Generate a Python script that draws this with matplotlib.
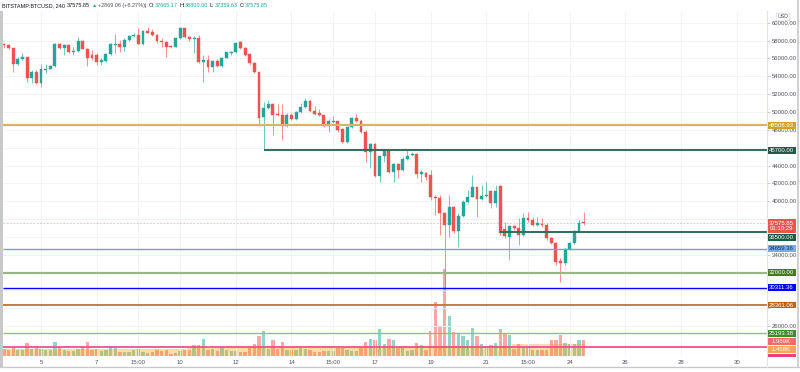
import numpy as np
import matplotlib.pyplot as plt
from matplotlib.patches import Rectangle
from matplotlib.lines import Line2D
from matplotlib.transforms import IdentityTransform

plt.rcParams['font.family'] = ['Liberation Sans', 'DejaVu Sans']

W, H = 800, 372

# BITSTAMP:BTCUSD 4h candles, first bar opens May 3 16:00
first_bar_day = 3 + 2 / 3

opens = [57610, 57500, 57125, 55370, 55893, 56154, 53764, 54511, 53204, 54735,
         54847, 55146, 57611, 57163, 57462, 56752, 56864, 57984, 57088, 56416,
         56378, 55631, 55743, 56453, 57536, 57611, 57312, 58059, 58470, 58619,
         57611, 59030, 58918, 58619, 57947, 57872, 57424, 57312, 58246, 59366,
         58358, 58134, 58246, 55631, 55818, 55071, 55743, 55183, 56080, 56640,
         56677, 57835, 57125, 56490, 55520, 54436, 49397, 50405, 50854, 49770,
         49658, 48463, 49658, 49210, 50032, 50517, 51264, 50107, 49845, 49621,
         48463, 48911, 48949, 48090, 46670, 48276, 49285, 49023, 47716, 45475,
         46371, 42823, 45064, 45737, 43234, 44130, 43496, 44691, 45139, 45288,
         43010, 43122, 42936, 40508, 40321, 38641, 37333, 39313, 36699, 38342,
         39948, 40508, 41554, 40209, 40583, 41180, 39761, 41703, 36848, 36026,
         37221, 36960, 36213, 38155, 37894, 37333, 37445, 37333, 35839, 35354,
         33337, 33038, 34607, 35279, 36661, 37665.17]
highs = [57760, 57573, 57163, 56117, 56565, 56192, 54698, 54698, 55333, 55333,
         55258, 57686, 57686, 57611, 57611, 57312, 58433, 58059, 57200, 56939,
         56565, 56005, 56640, 57686, 58731, 58059, 58246, 58619, 58806, 59366,
         59180, 59478, 59292, 58731, 58246, 57984, 57499, 58358, 59478, 59441,
         58507, 58507, 58619, 56378, 56378, 55818, 55893, 56192, 56752, 56864,
         57872, 57984, 57237, 56565, 55631, 54511, 51152, 51339, 50966, 50891,
         50891, 49845, 49845, 50144, 50966, 51526, 51339, 50667, 50293, 49696,
         49173, 49546, 49023, 48164, 48351, 49397, 49770, 49173, 47978, 46484,
         46484, 45176, 45811, 45811, 44243, 44243, 44989, 45737, 45550, 45363,
         43496, 43309, 43496, 40695, 40695, 38827, 40695, 39462, 38641, 40135,
         41255, 42936, 41629, 41815, 42189, 41255, 41815, 41815, 37707, 37333,
         37333, 38080, 38641, 38827, 38267, 38267, 38080, 37520, 36026, 35466,
         33598, 34718, 35466, 36773, 37894, 38800.00]
lows = [57125, 57013, 54511, 55258, 55818, 53390, 53204, 53129, 52830, 54324,
        54772, 55071, 57013, 56378, 56565, 56341, 56752, 57013, 55146, 55818,
        55258, 55258, 55631, 56341, 56640, 56752, 56864, 57984, 58358, 57573,
        57499, 58806, 58507, 57760, 57312, 56192, 57125, 57237, 58171, 58246,
        57984, 56640, 55445, 53390, 54511, 54511, 55071, 55071, 56005, 56378,
        56565, 57013, 56266, 55258, 54324, 48423, 45700, 50293, 47417, 49546,
        46857, 48351, 49098, 49098, 49920, 50405, 50032, 49696, 49546, 48351,
        47716, 48799, 47791, 46484, 46558, 48164, 48911, 47604, 44429, 43682,
        42674, 42189, 44429, 43122, 42189, 42562, 43421, 44616, 45064, 42562,
        42189, 42375, 40135, 38454, 36213, 30000, 36026, 36400, 34905, 38267,
        39836, 40433, 38267, 40135, 40508, 39201, 39388, 36213, 35839, 33411,
        36773, 35092, 36101, 37707, 37221, 37258, 37146, 35653, 35204, 32851,
        30984, 32851, 34532, 35204, 36586, 37359.63]
closes = [57500, 57125, 55407, 55893, 56117, 53764, 54511, 53204, 54772, 54810,
          55108, 57611, 57125, 57462, 56752, 56827, 57984, 57088, 56080, 56080,
          55631, 55781, 56453, 57573, 57611, 57312, 58059, 58545, 58619, 57611,
          59067, 58881, 58619, 57910, 57872, 57312, 57312, 58246, 59366, 58358,
          58134, 58246, 55557, 55818, 55071, 55743, 55183, 56080, 56677, 56752,
          57760, 57125, 56378, 55445, 54436, 49282, 50405, 50854, 49696, 49621,
          48463, 49658, 49173, 50032, 50592, 51264, 50107, 49770, 49621, 48463,
          48949, 48986, 47978, 46670, 48276, 49285, 49023, 47716, 45475, 46371,
          42823, 45064, 45737, 43234, 44130, 43496, 44765, 45102, 45288, 43010,
          43234, 42749, 40508, 40321, 38641, 37333, 39313, 36699, 38342, 39948,
          40508, 41554, 40209, 40583, 40695, 39761, 41180, 36474, 36101, 37221,
          36960, 36213, 38155, 37894, 37333, 37520, 37333, 35839, 35354, 33225,
          33038, 34607, 35279, 36661, 37595, 37575.85]
# volume in thousands of BTC
volumes = [0.9, 0.75, 1.1, 0.7, 0.75, 1.55, 0.9, 1.15, 0.85, 0.7,
           0.7, 1.7, 1.1, 0.7, 0.6, 0.6, 0.8, 1.1, 1.7, 0.7,
           0.8, 0.6, 0.7, 1.1, 0.95, 0.5, 0.5, 0.5, 0.7, 0.85,
           0.5, 0.35, 0.5, 0.7, 0.6, 0.75, 0.3, 0.35, 0.6, 0.7,
           0.7, 1.3, 1.3, 2.1, 0.75, 0.85, 0.6, 1.0, 0.7, 0.6,
           0.6, 0.5, 0.5, 1.1, 1.5, 2.4, 3.0, 0.9, 1.9, 0.9,
           1.7, 0.75, 0.7, 0.7, 1.0, 0.85, 0.7, 0.5, 0.45, 0.6,
           0.6, 0.6, 1.0, 0.95, 0.7, 0.6, 0.6, 1.1, 1.7, 2.1,
           2.0, 3.3, 1.4, 2.1, 2.0, 1.0, 1.0, 0.6, 0.75, 1.6,
           1.3, 0.75, 3.0, 6.5, 3.6, 10.5, 4.9, 2.9, 2.7, 2.4,
           2.0, 3.4, 2.4, 1.4, 1.2, 1.3, 1.6, 3.3, 2.8, 2.6,
           0.8, 1.5, 1.0, 1.0, 0.7, 0.7, 0.7, 0.75, 2.0, 1.9,
           2.6, 1.6, 1.4, 1.5, 1.9, 1.989]
vol_ma = [0.85] * 40 + [0.95] * 45 + [1.2] * 25 + [1.45] * 16

# drawn horizontal levels: price, line colour, tag colour, first bar (None = whole width)
level_prices = [48508.93, 45700.00, 36500.00, 34659.36, 32000.00, 30311.36, 28361.06, 25193.38, 23665.00]
level_line_colors = ['#d8b55e', '#2f6e58', '#2f6e58', '#6d9eeb', '#98b887', '#0000ff', '#c4722e', '#93bf85', '#f0508c']
level_line_widths = [1.6, 1.4, 1.4, 1.0, 1.6, 1.0, 1.3, 1.0, 1.3]
level_tag_colors = ['#cfa32a', '#1e5c46', '#1e5c46', '#7aaaf2', '#457a22', '#0000ff', '#b8661c', '#3f8a2c', None]
level_tag_text = ['white', 'white', 'white', '#1c2a4a', 'white', 'white', 'white', 'white', None]
level_start_bar = [None, 56, 107, None, None, None, None, None, None]

x_ticks = [5, 7, 8.5, 10, 12, 14, 15.5, 17, 19, 21, 22.5, 24, 26, 28, 30]
x_labels = ['5', '7', '15:00', '10', '12', '14', '15:00', '17', '19', '21', '15:00', '24', '26', '28', '30']
price_ticks = np.arange(26000, 60001, 2000)
# scale labels hidden behind the coloured tags
hidden_ticks = [46000, 38000, 36000, 32000, 30000, 28000]

UP, DOWN = '#26a69a', '#ef5350'
UP_VOL, DOWN_VOL = '#92d3cc', '#f7a9a7'

n = len(opens)
days = first_bar_day + np.arange(n) / 6
o = np.array(opens); c = np.array(closes)
up = c >= o

fig = plt.figure(figsize=(W / 100, H / 100), dpi=100)
rect = [2.5 / W, (H - 356) / H, (767 - 2.5) / W, (356 - 11) / H]
axv = fig.add_axes(rect)
ax = fig.add_axes(rect)
ax.patch.set_visible(False)

xmin, xmax = 3.6166, 31.087
for a in (axv, ax):
    a.set_xlim(xmin, xmax)
    for s in a.spines.values():
        s.set_visible(False)
ax.set_ylim(22657, 61311)
axv.set_ylim(0, (356 - 11) / 8.25)

# volume pane
axv.bar(days, volumes, width=0.72 / 6, color=np.where(up, UP_VOL, DOWN_VOL), zorder=2)
axv.fill_between(days, 0, vol_ma, step='mid', color='#ff9800', alpha=0.33, lw=0, zorder=3)
axv.set_xticks([])
axv.set_yticks([])

# grid
ax.set_axisbelow(True)
ax.grid(True, color='#f0f1f4', lw=0.6)

# candles
col = np.where(up, UP, DOWN)
ax.vlines(days, lows, highs, colors=col, lw=0.6, alpha=0.75, zorder=3)
ax.bar(days, np.abs(c - o), bottom=np.minimum(o, c), width=0.62 / 6,
       color=col, edgecolor=col, lw=0.3, zorder=4)

# levels
for p, lc, lw, sb in zip(level_prices, level_line_colors, level_line_widths, level_start_bar):
    start = xmin if sb is None else days[sb]
    ax.hlines(p, start, xmax, color=lc, lw=lw, zorder=5)
ax.axhline(closes[-1], color=DOWN, lw=0.6, alpha=0.45, ls=(0, (2, 2)), zorder=2)

# axes ticks
ax.yaxis.tick_right()
ax.set_yticks(price_ticks)
ax.set_yticklabels(['' if v in hidden_ticks else f'{v:.2f}' for v in price_ticks])
ax.tick_params(axis='y', length=2, width=0.5, color='#b2b5be', pad=1.5,
               labelsize=4.3, labelcolor='#50535e')
ax.set_xticks(x_ticks)
ax.set_xticklabels(x_labels)
ax.tick_params(axis='x', length=0, pad=3, labelsize=4.3, labelcolor='#50535e')

ID = IdentityTransform()


def tag(axis, value, text, bg, fg='white', shift=0.0, h=6.8, w=28):
    yd = axis.transData.transform((0, value))[1] - shift
    fig.add_artist(Rectangle((767.5, yd - h / 2), w, h, transform=ID,
                             fc=bg, ec='none', zorder=5))
    fig.text(767.5 + w / 2, yd, text, transform=ID, ha='center', va='center',
             fontsize=4.3, color=fg, zorder=6, linespacing=1.15)


for p, bg, fg in zip(level_prices, level_tag_colors, level_tag_text):
    if bg is None:
        continue
    tag(ax, p, f'{p:.2f}', bg, fg, shift=4.9 if p == 36500 else 0)
tag(ax, closes[-1], f'{closes[-1]:.2f}\n01:10:29', DOWN, shift=3.2, h=13.4)
tag(axv, volumes[-1], f'{volumes[-1]:.3f}K', '#f06a6e', shift=1.7)
tag(axv, vol_ma[-1], '1.458K', '#f7a35c', shift=5.3)
fig.add_artist(Rectangle((767.5, H - 356.5), 28, 3, transform=ID, fc='#ec407a', ec='none', zorder=5))

# USD badge
fig.text(783, H - 17, 'USD', transform=ID, ha='center', va='center', fontsize=3.8,
         color='#50535e', bbox=dict(boxstyle='round,pad=0.25', fc='white', ec='#d1d4dc', lw=0.5))

# frame
frame = '#c8c8c8'
fig.add_artist(Rectangle((0, H - 367), 2.5, 356, transform=ID, fc=frame, ec='none'))
fig.add_artist(Line2D([0, 800], [H - 367, H - 367], transform=ID, color=frame, lw=1.0))
fig.add_artist(Line2D([798, 798], [H - 367, H], transform=ID, color=frame, lw=1.2))
fig.add_artist(Line2D([767, 767], [H - 367, H - 11], transform=ID, color='#e0e3eb', lw=0.8))

# legend line at the top
teal = '#26a69a'
dark = '#131722'
segments = [('BITSTAMP:BTCUSD, 240', dark, 2.5), ('37575.85', dark, 1.5), ('▲', teal, 1.5),
            ('+2869.06 (+8.27%)|', '#50535e', 1.5), ('O:', dark, 0.3), ('37665.17', teal, 1.5),
            ('H:', dark, 0.3), ('38800.00', teal, 1.5), ('L:', dark, 0.3), ('37359.63', teal, 1.5),
            ('C:', dark, 0.3), ('37575.85', teal, 0)]
renderer = fig.canvas.get_renderer()
x = 1.5
for s, colr, gap in segments:
    t = fig.text(x, H - 5.5, s, transform=ID, fontsize=3.95, color=colr, ha='left', va='center')
    x = t.get_window_extent(renderer).x1 + gap

fig.savefig('out.png', dpi=100, facecolor='white')
